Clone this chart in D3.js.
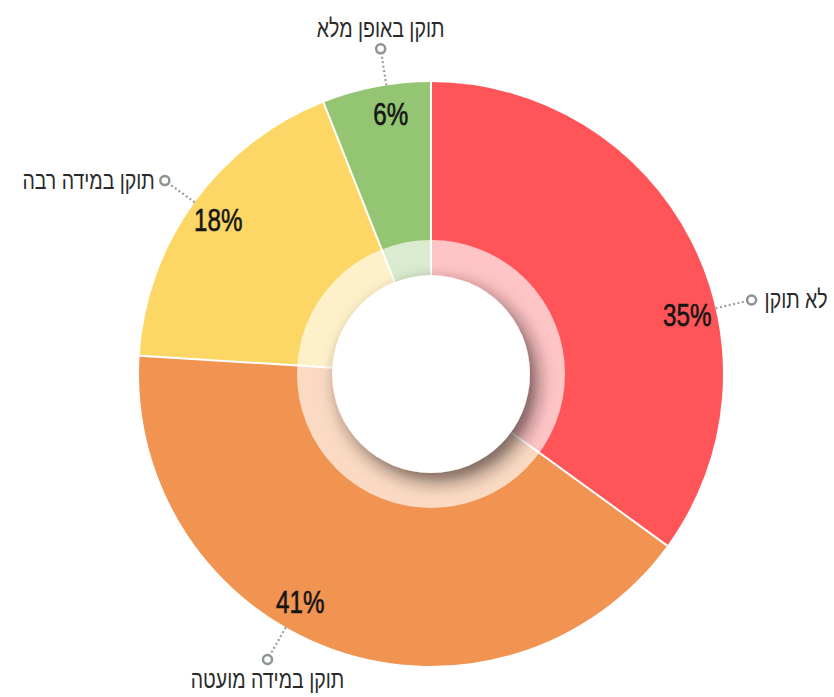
<!DOCTYPE html>
<html>
<head>
<meta charset="utf-8">
<script src="https://cdn.jsdelivr.net/npm/d3@7"></script>
<style>
    body { margin: 0; background: #fff; }
    svg { display: block; }
</style>
</head>
<body>
<svg id="drawing_region"></svg>
<script>
const categories = ["לא תוקן", "תוקן במידה מועטה", "תוקן במידה רבה", "תוקן באופן מלא"];
const values = [35, 41, 18, 6];
const colors = ["#ff5558", "#f19351", "#fcd765", "#93c572"];
// extra rotation (degrees) of each label away from its slice middle
const labelShift = [14, 10, 0, 2];

const config = {
    parent: '#drawing_region',
    width: 834,
    height: 697,
    cx: 431,
    cy: 374,
    outer: 292,
    ring: 134,
    hole: 99
};

const svg = d3.select(config.parent)
    .attr("width", config.width)
    .attr("height", config.height);

const defs = svg.append("defs");
const shadow = defs.append("filter")
    .attr("id", "hole_shadow")
    .attr("x", "-50%").attr("y", "-50%")
    .attr("width", "200%").attr("height", "200%");
shadow.append("feDropShadow")
    .attr("dx", 7)
    .attr("dy", 8)
    .attr("stdDeviation", 9)
    .attr("flood-color", "#2a1a1a")
    .attr("flood-opacity", 0.65);

const chart = svg.append("g")
    .attr("transform", `translate(${config.cx}, ${config.cy})`);

const data = categories.map((c, i) => ({ label: c, value: values[i], color: colors[i], shift: labelShift[i] }));

const pie = d3.pie()
    .value(d => d.value)
    .sort(null);

const arcs = pie(data);

const arc = d3.arc()
    .innerRadius(0)
    .outerRadius(config.outer);

chart.selectAll("path.slice")
    .data(arcs)
    .enter()
    .append("path")
    .attr("class", "slice")
    .attr("d", arc)
    .attr("fill", d => d.data.color);

// light ring
chart.append("circle")
    .attr("r", (config.ring + config.hole) / 2)
    .attr("fill", "none")
    .attr("stroke", "#fff")
    .attr("stroke-opacity", 0.66)
    .attr("stroke-width", config.ring - config.hole);

// slice separators
chart.selectAll("line.sep")
    .data(arcs)
    .enter()
    .append("line")
    .attr("class", "sep")
    .attr("x1", 0).attr("y1", 0)
    .attr("x2", d => config.outer * Math.sin(d.startAngle))
    .attr("y2", d => -config.outer * Math.cos(d.startAngle))
    .attr("stroke", "#fff")
    .attr("stroke-width", 2);

// white hole
chart.append("circle")
    .attr("r", config.hole)
    .attr("fill", "#fff")
    .attr("filter", "url(#hole_shadow)");

const polar = (a, r) => [r * Math.sin(a), -r * Math.cos(a)];

const labels = chart.selectAll("g.label")
    .data(arcs)
    .enter()
    .append("g")
    .attr("class", "label");

labels.each(function(d) {
    const g = d3.select(this);
    const a = (d.startAngle + d.endAngle) / 2 + d.data.shift * Math.PI / 180;
    const [px, py] = polar(a, 263);
    const [x1, y1] = polar(a, 292);
    const [x2, y2] = polar(a, 322);
    const [ccx, ccy] = polar(a, 329);

    g.append("text")
        .attr("transform", `translate(${px}, ${py}) scale(0.78, 1)`)
        .attr("text-anchor", "middle")
        .attr("dy", "0.36em")
        .attr("font-family", "Liberation Sans, Arial, sans-serif")
        .attr("font-size", 31)
        .attr("fill", "#151515")
        .attr("stroke", "#151515")
        .attr("stroke-width", 0.6)
        .text(d.data.value + "%");

    g.append("line")
        .attr("x1", x1).attr("y1", y1)
        .attr("x2", x2).attr("y2", y2)
        .attr("stroke", "#9aa09e")
        .attr("stroke-width", 2.2)
        .attr("stroke-dasharray", "2,2.5");

    g.append("circle")
        .attr("cx", ccx).attr("cy", ccy)
        .attr("r", 4.5)
        .attr("fill", "#fff")
        .attr("stroke", "#8c9391")
        .attr("stroke-width", 2.5);

    const s = Math.sin(a), c = Math.cos(a);
    let tx, ty, anchor;
    if (Math.abs(s) > 0.7) {
        anchor = s > 0 ? "start" : "end";
        tx = ccx + (s > 0 ? 13 : -10);
        ty = ccy + 8;
    } else if (c > 0) {
        anchor = "middle";
        tx = ccx;
        ty = ccy - 12;
    } else {
        anchor = "middle";
        tx = ccx;
        ty = ccy + 29;
    }

    g.append("text")
        .attr("transform", `translate(${tx}, ${ty}) scale(0.78, 1)`)
        .attr("text-anchor", anchor)
        .attr("font-family", "Liberation Sans, Arial, sans-serif")
        .attr("font-size", 25)
        .attr("fill", "#2a2a2a")
        .text(d.data.label);
});
</script>
</body>
</html>
